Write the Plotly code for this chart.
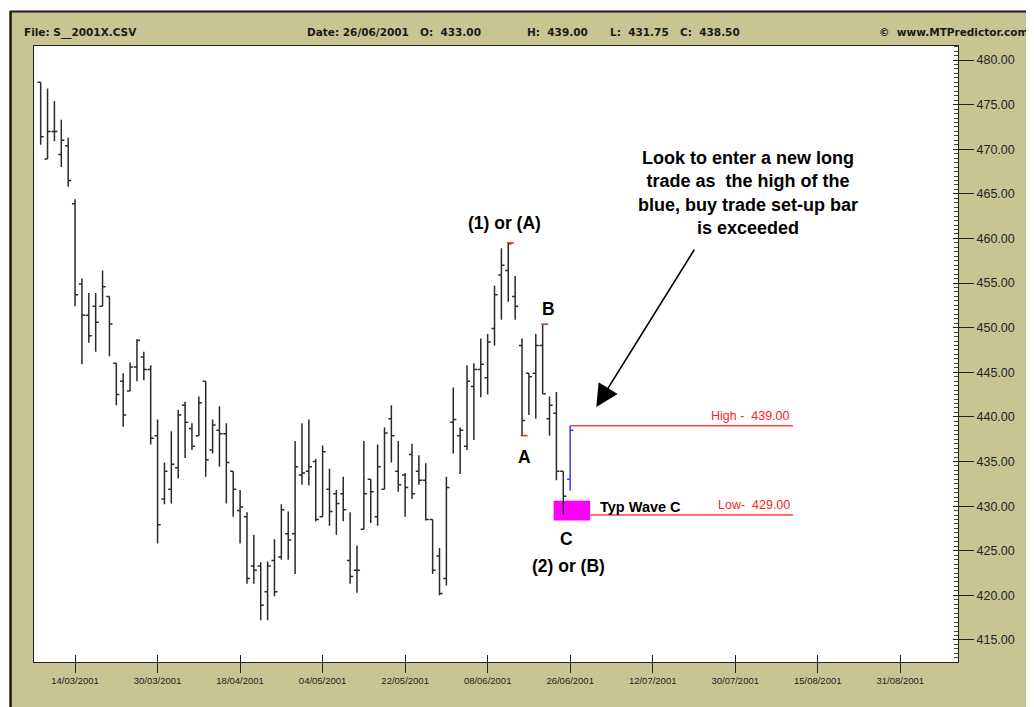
import plotly.graph_objects as go

# daily bars from 07/03/2001 to 26/06/2001 (last one is the buy set-up bar)
opens = [477.5, 468.9, 472.0, 469.4, 470.4, 463.9, 454.9, 451.4, 452.4, 452.4,
         453.5, 446.0, 444.0, 442.9, 445.6, 446.7, 445.3, 437.9, 430.8, 431.9,
         434.3, 441.3, 438.7, 437.9, 444.0, 436.3, 438.5, 438.1, 433.9, 429.5,
         428.8, 423.3, 423.3, 420.4, 423.9, 424.3, 426.9, 426.9, 433.5, 433.9,
         435.0, 428.8, 431.9, 431.4, 431.4, 423.9, 422.8, 427.4, 433.0, 428.8,
         431.9, 439.8, 433.9, 433.5, 435.8, 433.9, 432.9, 428.5, 424.4, 421.9,
         439.4, 437.9, 436.7, 443.4, 445.3, 444.4, 449.9, 455.9, 456.4, 453.5,
         448.0, 444.9, 444.9, 448.0, 439.8, 440.4, 433.9, 433.00]
highs = [477.5, 476.8, 475.4, 473.3, 471.3, 464.4, 455.5, 453.9, 453.9, 456.4,
         453.5, 446.0, 444.9, 446.1, 448.7, 447.3, 445.8, 439.7, 434.9, 438.4,
         440.8, 441.7, 439.3, 442.3, 444.0, 439.7, 441.2, 439.3, 433.9, 431.8,
         429.3, 426.8, 423.7, 423.8, 426.3, 430.2, 429.4, 437.3, 439.3, 439.7,
         435.3, 436.8, 434.2, 431.8, 433.3, 429.3, 425.6, 437.3, 433.0, 436.9,
         438.8, 441.3, 437.3, 433.7, 437.0, 435.7, 434.8, 428.5, 425.3, 433.3,
         443.3, 438.8, 445.8, 446.0, 448.8, 449.3, 454.7, 458.9, 459.5, 455.8,
         448.8, 444.9, 449.3, 450.4, 442.3, 442.8, 433.9, 439.00]
lows = [470.5, 468.9, 470.9, 468.0, 465.8, 452.4, 445.9, 448.3, 447.3, 452.4,
        446.8, 441.3, 438.9, 442.9, 444.0, 444.1, 436.9, 425.8, 430.2, 430.3,
        433.1, 435.4, 436.3, 437.9, 433.3, 435.9, 434.4, 430.3, 428.8, 425.8,
        421.3, 421.3, 417.2, 417.2, 419.9, 424.0, 424.0, 422.4, 432.4, 432.3,
        428.3, 428.8, 427.8, 426.8, 428.3, 421.3, 420.3, 427.4, 428.1, 427.8,
        431.9, 434.9, 431.6, 428.8, 430.8, 432.4, 428.4, 422.4, 420.0, 421.1,
        435.9, 433.6, 436.3, 437.4, 442.2, 442.5, 448.0, 450.9, 452.9, 450.9,
        437.9, 440.2, 439.8, 442.6, 437.9, 432.9, 429.0, 431.75]
closes = [471.4, 472.0, 472.0, 471.0, 466.5, 453.7, 451.4, 449.1, 450.6, 454.6,
          450.4, 442.5, 440.2, 445.6, 448.6, 445.3, 437.6, 427.9, 433.9, 434.7,
          440.2, 439.4, 436.7, 441.6, 435.2, 439.1, 438.1, 434.9, 431.9, 429.9,
          421.9, 422.8, 418.9, 423.3, 420.4, 429.6, 426.2, 434.4, 433.7, 434.4,
          428.5, 436.1, 429.4, 430.3, 429.6, 422.1, 422.8, 431.4, 431.6, 434.4,
          438.2, 437.9, 432.4, 432.1, 431.4, 432.9, 428.5, 422.8, 420.2, 432.1,
          439.7, 438.5, 444.0, 445.3, 445.9, 448.4, 453.7, 457.0, 459.4, 452.4,
          439.6, 444.5, 448.0, 442.6, 441.3, 433.9, 431.1, 438.50]

tick_dates = ['14/03/2001', '30/03/2001', '18/04/2001', '04/05/2001', '22/05/2001',
              '08/06/2001', '26/06/2001', '12/07/2001', '30/07/2001', '15/08/2001',
              '31/08/2001']
tick_idx = [5 + 12 * k for k in range(len(tick_dates))]

# swing points marked in red: (1)/(A) high, A low, B high
pivot_idx = [68, 70, 73]
pivot_price = [highs[68], lows[70], highs[73]]

setup_high = 439.00
setup_low = 429.00

KHAKI = '#c9c592'
FONT = 'Liberation Sans, Arial, sans-serif'
XR = [-0.97, 133.4]
YR = [412.53, 481.57]

n = len(opens)
bar_x = list(range(n))

fig = go.Figure()

fig.add_trace(go.Ohlc(
    x=bar_x[:-1], open=opens[:-1], high=highs[:-1], low=lows[:-1], close=closes[:-1],
    increasing=dict(line=dict(color='#2a2a2a', width=1.5)),
    decreasing=dict(line=dict(color='#2a2a2a', width=1.5)),
    tickwidth=0.45, hoverinfo='skip', showlegend=False
))

# blue set-up bar (drawn on the overlay axes that also carry the inner tick marks)
fig.add_trace(go.Ohlc(
    x=bar_x[-2:], open=[None, opens[-1]], high=[None, highs[-1]],
    low=[None, lows[-1]], close=[None, closes[-1]],
    increasing=dict(line=dict(color='#3b3bff', width=1.5)),
    decreasing=dict(line=dict(color='#3b3bff', width=1.5)),
    tickwidth=0.45, hoverinfo='skip', showlegend=False,
    xaxis='x2', yaxis='y2'
))

fig.add_trace(go.Scatter(
    x=[i + 0.3 for i in pivot_idx], y=pivot_price, mode='markers',
    marker=dict(symbol='line-ew', size=5, line=dict(color='#ff2020', width=1.5)),
    hoverinfo='skip', showlegend=False
))

# typical wave C zone, and the set-up bar high/low levels
fig.add_shape(type='rect', x0=74.6, x1=79.9, y0=428.4, y1=430.6,
              fillcolor='#ff00ff', line=dict(width=0), layer='below')
fig.add_shape(type='line', x0=n - 1, x1=109.4, y0=setup_high, y1=setup_high,
              line=dict(color='#ff4040', width=1.5))
fig.add_shape(type='line', x0=79.9, x1=109.4, y0=setup_low, y1=setup_low,
              line=dict(color='#ff4040', width=1.5))

# outer frame: dark edge along the top and left of the khaki panel
fig.add_shape(type='rect', xref='paper', yref='paper', x0=-0.04, x1=1.09, y0=1.0568, y1=1.08,
              fillcolor='white', line=dict(width=0))
fig.add_shape(type='rect', xref='paper', yref='paper', x0=-0.04, x1=-0.026, y0=-0.08, y1=1.08,
              fillcolor='white', line=dict(width=0))
fig.add_shape(type='line', xref='paper', yref='paper', x0=-0.0259, x1=1.09, y0=1.0560, y1=1.0560,
              line=dict(color='#1a1a1a', width=2))
fig.add_shape(type='line', xref='paper', yref='paper', x0=-0.0254, x1=-0.0254, y0=-0.08, y1=1.0568,
              line=dict(color='#1a1a1a', width=2.5))

header_font = dict(family='DejaVu Sans, Verdana, sans-serif', size=10.5, color='#1a1a1a')
header = [
    (-0.013, 'left', 'File: S__2001X.CSV'),
    (0.2933, 'left', 'Date: 26/06/2001'),
    (0.4156, 'left', 'O:\u00a0 433.00'),
    (0.5314, 'left', 'H:\u00a0 439.00'),
    (0.6212, 'left', 'L:\u00a0 431.75'),
    (0.6970, 'left', 'C:\u00a0 438.50'),
    (1.0790, 'right', '\u00a9\u00a0 www.MTPredictor.com'),
]
for hx, anchor, txt in header:
    fig.add_annotation(x=hx, y=1.0227, xref='paper', yref='paper', text='<b>' + txt + '</b>',
                       showarrow=False, xanchor=anchor, yanchor='middle', font=header_font)

big = dict(family=FONT, size=17.5, color='black')
labels = [
    (67.5, 461.7, '(1) or (A)'),
    (73.8, 452.1, 'B'),
    (70.3, 435.5, 'A'),
    (76.4, 426.3, 'C'),
    (76.8, 423.3, '(2) or (B)'),
]
for lx, ly, txt in labels:
    fig.add_annotation(x=lx, y=ly, text='<b>' + txt + '</b>', showarrow=False, font=big)

fig.add_annotation(x=81.1, y=429.9, text='<b>Typ Wave C</b>', showarrow=False, xanchor='left',
                   font=dict(family=FONT, size=14.5, color='black'))

fig.add_annotation(x=109.3, y=setup_high, text='High -\u00a0 439.00', showarrow=False,
                   xanchor='right', yanchor='bottom', yshift=1,
                   font=dict(family=FONT, size=12.5, color='#ff2020'))
fig.add_annotation(x=109.3, y=setup_low, text='Low-\u00a0 429.00', showarrow=False,
                   xanchor='right', yanchor='bottom', yshift=1,
                   font=dict(family=FONT, size=12.5, color='#ff2020'))

fig.add_annotation(x=102.9, y=465.1, showarrow=False, align='center',
                   text='<b>Look to enter a new long<br>trade as\u00a0 the high of the<br>'
                        'blue, buy trade set-up bar<br>is exceeded</b>',
                   font=dict(family=FONT, size=18, color='black'))

fig.add_annotation(x=80.8, y=441.1, ax=99, ay=-159, text='', showarrow=True,
                   arrowhead=2, arrowsize=2.8, arrowwidth=1.6, arrowcolor='black')

axis_font = dict(family=FONT, color='#222222')

# page body keeps an 8px margin, so the figure is 8px smaller than the window
fig.update_layout(
    width=1026, height=699,
    margin=dict(l=26, r=76, t=38, b=45),
    paper_bgcolor=KHAKI, plot_bgcolor='white',
    showlegend=False,
    xaxis=dict(range=XR, tickvals=tick_idx, ticktext=tick_dates,
               ticks='outside', ticklen=10, tickwidth=1, tickcolor='#222222',
               showgrid=False, zeroline=False, showline=True, linecolor='#222222',
               linewidth=1, mirror=True, rangeslider=dict(visible=False),
               tickfont=dict(size=9.5, **axis_font)),
    yaxis=dict(range=YR, side='right', tick0=415, dtick=5, tickformat='.2f',
               ticks='outside', ticklen=15, tickwidth=1, tickcolor='#222222',
               minor=dict(ticks='inside', ticklen=4, dtick=0.5, tickcolor='#444444'),
               showgrid=False, zeroline=False, showline=True, linecolor='#222222',
               linewidth=1, mirror=True, tickfont=dict(size=12.5, **axis_font)),
    xaxis2=dict(range=XR, overlaying='x', anchor='y', side='bottom', tickvals=tick_idx,
                ticks='inside', ticklen=7, tickcolor='#222222', showticklabels=False,
                showgrid=False, zeroline=False, rangeslider=dict(visible=False)),
    yaxis2=dict(range=YR, overlaying='y', anchor='x', side='right', tick0=415, dtick=5,
                ticks='inside', ticklen=5, tickcolor='#222222', showticklabels=False,
                showgrid=False, zeroline=False),
)

fig.write_html("out.html")
